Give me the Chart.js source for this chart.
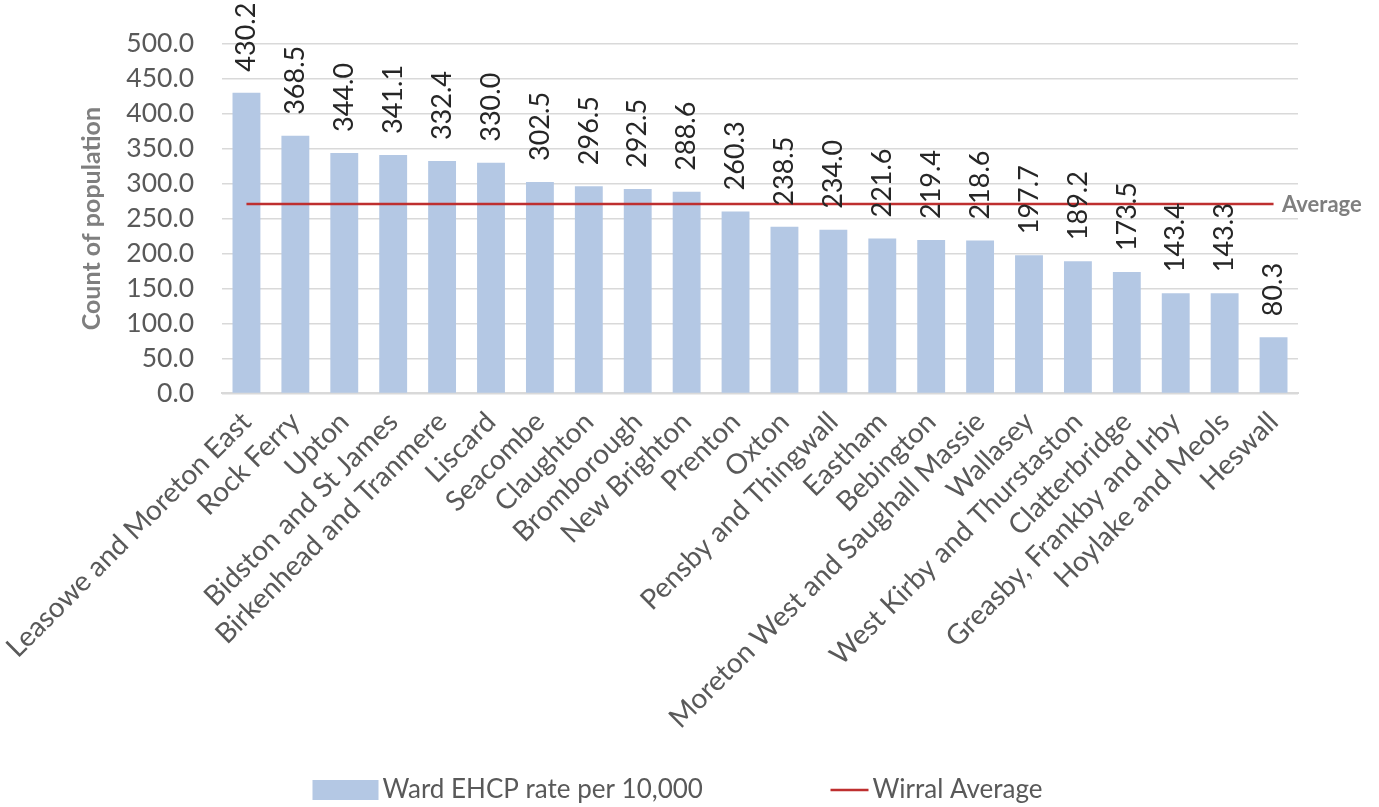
<!DOCTYPE html>
<html>
<head>
<meta charset="utf-8">
<script src="https://cdn.jsdelivr.net/npm/chart.js@4.4.1/dist/chart.umd.min.js"></script>
<style>
  html, body { margin: 0; padding: 0; background: #fff; }
  #wrap { width: 1379px; height: 807px; }
</style>
</head>
<body>
<div id="wrap"><canvas id="ehcpChart"></canvas></div>
<script>
// ward names, in the order shown
const wards = [
  'Leasowe and Moreton East', 'Rock Ferry', 'Upton', 'Bidston and St James',
  'Birkenhead and Tranmere', 'Liscard', 'Seacombe', 'Claughton', 'Bromborough',
  'New Brighton', 'Prenton', 'Oxton', 'Pensby and Thingwall', 'Eastham',
  'Bebington', 'Moreton West and Saughall Massie', 'Wallasey',
  'West Kirby and Thurstaston', 'Clatterbridge', 'Greasby, Frankby and Irby',
  'Hoylake and Meols', 'Heswall'
];
const ehcpRate = [
  430.2, 368.5, 344.0, 341.1, 332.4, 330.0, 302.5, 296.5, 292.5, 288.6, 260.3,
  238.5, 234.0, 221.6, 219.4, 218.6, 197.7, 189.2, 173.5, 143.4, 143.3, 80.3
];
const wirralAverage = 270.8;
const averageLine = wards.map(() => wirralAverage);

const yMax = 500;
const yStep = 50;

const FONT = 'Lato, "Open Sans", sans-serif';

// value labels above the bars, rotated
const barLabels = {
  id: 'barLabels',
  afterDatasetsDraw(chart) {
    const ctx = chart.ctx;
    const meta = chart.getDatasetMeta(1);
    ctx.save();
    ctx.font = '27px ' + FONT;
    ctx.fillStyle = '#262626';
    ctx.textAlign = 'left';
    ctx.textBaseline = 'middle';
    meta.data.forEach((bar, i) => {
      ctx.save();
      ctx.translate(bar.x, bar.y - 21);
      ctx.rotate(-Math.PI / 2);
      ctx.fillText(ehcpRate[i].toFixed(1), 0, 0);
      ctx.restore();
    });
    // "Average" tag at the end of the line
    const line = chart.getDatasetMeta(0).data;
    const last = line[line.length - 1];
    ctx.font = 'bold 22px ' + FONT;
    ctx.fillStyle = '#7f7f7f';
    ctx.fillText('Average', chart.chartArea.right - 16, last.y + 1);
    ctx.restore();
  }
};

// legend drawn at the bottom
const bottomLegend = {
  id: 'bottomLegend',
  afterDraw(chart) {
    const ctx = chart.ctx;
    ctx.save();
    ctx.font = '26px ' + FONT;
    ctx.textBaseline = 'middle';
    ctx.textAlign = 'left';
    const x0 = chart.width / 2 - 377;
    const y = 790;
    ctx.fillStyle = '#b4c8e4';
    ctx.fillRect(x0, y - 10, 66, 20);
    ctx.fillStyle = '#595959';
    ctx.fillText('Ward EHCP rate per 10,000', x0 + 70, y);
    ctx.strokeStyle = '#be2f2f';
    ctx.lineWidth = 2.5;
    ctx.beginPath();
    ctx.moveTo(x0 + 518, y);
    ctx.lineTo(x0 + 556, y);
    ctx.stroke();
    ctx.fillText('Wirral Average', x0 + 560, y);
    ctx.restore();
  }
};

new Chart(document.getElementById('ehcpChart'), {
  data: {
    labels: wards,
    datasets: [
      {
        type: 'line',
        label: 'Wirral Average',
        data: averageLine,
        borderColor: '#be2f2f',
        borderWidth: 2.5,
        pointRadius: 0,
        fill: false,
        order: 0
      },
      {
        type: 'bar',
        label: 'Ward EHCP rate per 10,000',
        data: ehcpRate,
        backgroundColor: '#b4c8e4',
        categoryPercentage: 1,
        barPercentage: 0.57,
        order: 1
      }
    ]
  },
  options: {
    responsive: true,
    maintainAspectRatio: false,
    animation: false,
    layout: { padding: { top: 34, right: 81, left: 60, bottom: 68 } },
    plugins: {
      legend: { display: false },
      tooltip: { enabled: false }
    },
    scales: {
      x: {
        grid: { display: false },
        border: { color: '#d9d9d9', width: 2 },
        ticks: {
          color: '#595959',
          font: { family: FONT, size: 28 },
          maxRotation: 45,
          minRotation: 45,
          autoSkip: false,
          padding: 4
        }
      },
      y: {
        min: 0,
        max: yMax,
        // keep the axis box at the reference width
        afterFit: s => { s.width = 162; },
        grid: { color: '#d9d9d9', lineWidth: 1.5, drawTicks: false },
        border: { display: false },
        ticks: {
          stepSize: yStep,
          autoSkip: false,
          color: '#595959',
          padding: 28,
          font: { family: FONT, size: 26.5 },
          callback: v => v.toFixed(1)
        },
        title: {
          display: true,
          text: 'Count of population',
          color: '#7f7f7f',
          font: { family: FONT, size: 25, weight: 'bold' },
          padding: { top: 17, bottom: 21 }
        }
      }
    }
  },
  plugins: [barLabels, bottomLegend]
});
</script>
</body>
</html>
